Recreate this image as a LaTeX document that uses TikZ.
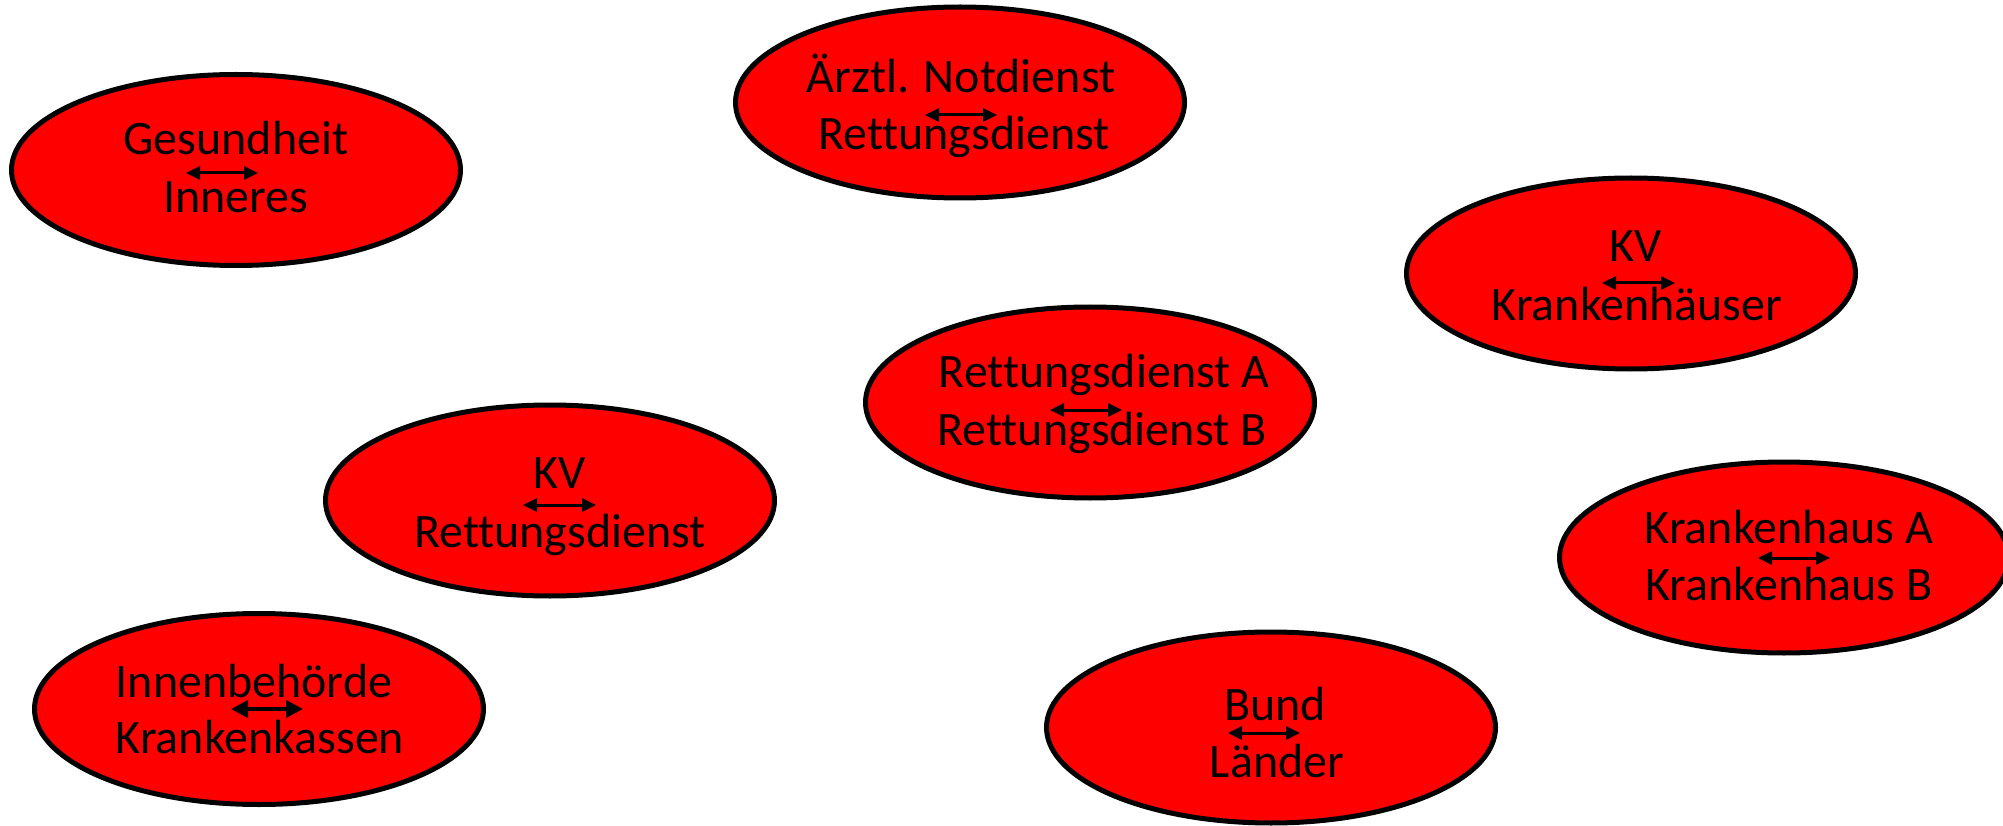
\documentclass[tikz,border=0pt]{standalone}
\usepackage{fontspec}
\setmainfont[Ligatures={NoCommon}]{Carlito}
\usetikzlibrary{shapes.geometric,arrows.meta}
\tikzset{
  blob/.style={ellipse, draw=black, line width=5pt, fill=red, minimum width=449pt, minimum height=191pt, inner sep=0pt},
  lbl/.style={anchor=base, inner sep=0pt, font=\fontsize{48}{48}\selectfont},
  rel/.style={{Triangle[length=14pt,width=13pt]}-{Triangle[length=14pt,width=13pt]}, line width=3pt},
  relbig/.style={{Triangle[length=17pt,width=17pt]}-{Triangle[length=17pt,width=17pt]}, line width=4pt}
}
\begin{document}
\begin{tikzpicture}[x=1pt,y=-1pt]
\useasboundingbox (0,0) rectangle (2003,826);
% ellipses
\node[blob] (e1) at (236,170) {};
\node[blob] (e2) at (960,102.5) {};
\node[blob] (e3) at (1631,273.5) {};
\node[blob] (e4) at (1090,402.5) {};
\node[blob] (e5) at (550,500.5) {};
\node[blob] (e6) at (1784,557.5) {};
\node[blob] (e7) at (259,709) {};
\node[blob] (e8) at (1271,727.5) {};
% labels
\node[lbl] (t1a) at (236,155) {Gesundheit};
\node[lbl] (t1b) at (236,213) {Inneres};
\node[lbl] (t2a) at (961,93) {Ärztl. Notdienst};
\node[lbl] (t2b) at (964,150) {Rettungsdienst};
\node[lbl] (t3a) at (1636,262) {KV};
\node[lbl] (t3b) at (1637,320) {Krankenhäuser};
\node[lbl] (t4a) at (1104,388) {Rettungsdienst A};
\node[lbl] (t4b) at (1102,445) {Rettungsdienst B};
\node[lbl] (t5a) at (560,488) {KV};
\node[lbl] (t5b) at (560,547) {Rettungsdienst};
\node[lbl] (t6a) at (1789,543) {Krankenhaus A};
\node[lbl] (t6b) at (1789,600) {Krankenhaus B};
\node[lbl] (t7a) at (254,697) {Innenbehörde};
\node[lbl] (t7b) at (260,753) {Krankenkassen};
\node[lbl] (t8a) at (1275,720) {Bund};
\node[lbl] (t8b) at (1277,777) {Länder};
% arrows
\coordinate (a1l) at (186,173); \coordinate (a1r) at (258,173);
\coordinate (a2l) at (925,115); \coordinate (a2r) at (997,115);
\coordinate (a3l) at (1602,283); \coordinate (a3r) at (1675,283);
\coordinate (a4l) at (1050,410); \coordinate (a4r) at (1122,410);
\coordinate (a5l) at (523,505); \coordinate (a5r) at (596,505);
\coordinate (a6l) at (1758,558); \coordinate (a6r) at (1830,558);
\coordinate (a7l) at (231,709); \coordinate (a7r) at (303,709);
\coordinate (a8l) at (1228,733); \coordinate (a8r) at (1300,733);
\draw[rel] (a1l) -- (a1r);
\draw[rel] (a2l) -- (a2r);
\draw[rel] (a3l) -- (a3r);
\draw[rel] (a4l) -- (a4r);
\draw[rel] (a5l) -- (a5r);
\draw[rel] (a6l) -- (a6r);
\draw[relbig] (a7l) -- (a7r);
\draw[rel] (a8l) -- (a8r);
\end{tikzpicture}
\end{document}
